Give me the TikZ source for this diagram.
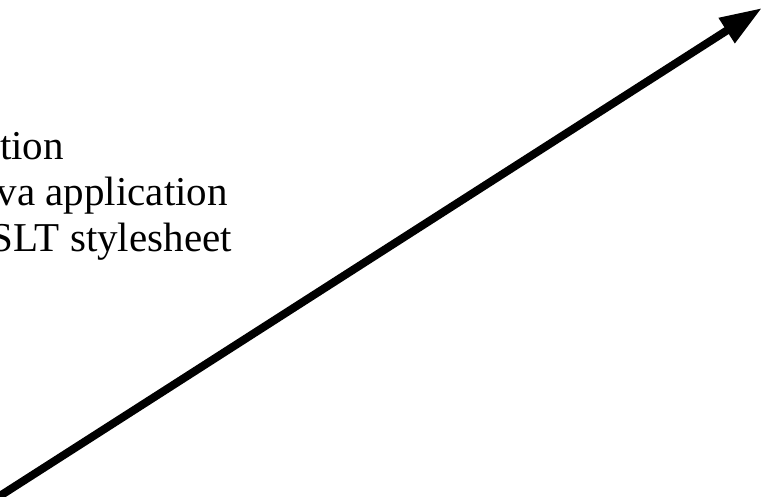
\documentclass[tikz,border=0pt]{standalone}
\usepackage{fontspec}
\setmainfont{Liberation Serif}
\usetikzlibrary{arrows.meta}

\begin{document}
\begin{tikzpicture}[
    x=1pt, y=-1pt,
    label/.style={anchor=base east, inner sep=0pt, font=\fontsize{41}{47}\selectfont},
    bigarrow/.style={line width=8pt, -{Triangle[length=42pt, width=28pt]}}
  ]
    \useasboundingbox (0,0) rectangle (764,496);
    \node[label] (tion) at (64,159) {tion};
    \node[label] (java) at (228,205) {va application};
    \node[label] (xslt) at (232,251) {SLT stylesheet};
    \coordinate (start) at (-8,501);
    \coordinate (tip) at (762,8);
    \draw[bigarrow] (start) -- (tip);
  \end{tikzpicture}
\end{document}
